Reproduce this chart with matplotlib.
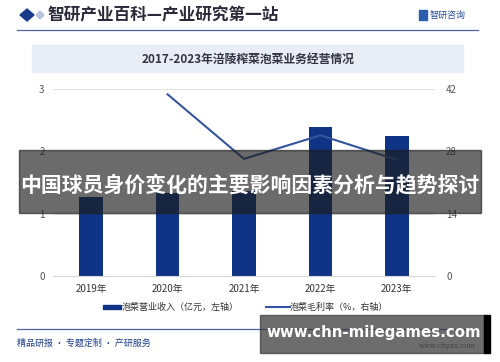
import matplotlib

matplotlib.use("Agg")

import matplotlib.pyplot as plt
from matplotlib.patches import Rectangle, Polygon
from matplotlib.lines import Line2D
import numpy as np

plt.rcParams["font.family"] = ["Noto Sans CJK SC", "DejaVu Sans"]

# ------------------------------------------------------------
# Data
# ------------------------------------------------------------
years = ["2019年", "2020年", "2021年", "2022年", "2023年"]
revenue = [1.27, 1.33, 1.36, 2.39, 2.25]          # 泡菜营业收入（亿元）
margin = [np.nan, 40.8, 26.3, 31.6, 26.1]          # 泡菜毛利率（%）
left_ticks = [0, 1, 2, 3]
right_ticks = [0, 14, 28, 42]

header_text = "智研产业百科—产业研究第一站"
chart_title = "2017-2023年涪陵榨菜泡菜业务经营情况"
overlay_text = "中国球员身价变化的主要影响因素分析与趋势探讨"
site_text = "www.chn-milegames.com"
footer_text = "精品研报 · 专题定制 · 产研服务"

BAR_COLOR = "#0f3385"
LINE_COLOR = "#34559e"
NAVY = "#1a3a8a"

W, H = 500, 362
fig = plt.figure(figsize=(W / 100, H / 100), dpi=100)
fig.patch.set_facecolor("white")


def fx(px):
    return px / W


def fy(py):
    return 1 - py / H


# header
fig.patches.append(Polygon([[fx(20), fy(15)], [fx(27), fy(9)], [fx(34), fy(15)], [fx(27), fy(21)]],
                           closed=True, transform=fig.transFigure, color=NAVY))
fig.patches.append(Polygon([[fx(36), fy(15)], [fx(40), fy(11)], [fx(44), fy(15)], [fx(40), fy(19)]],
                           closed=True, transform=fig.transFigure, color="#b8c4dc"))
fig.text(fx(47), fy(15), header_text, fontsize=12, fontweight="bold", color="#2a2a3a", va="center")
fig.patches.append(Rectangle((fx(419), fy(20)), fx(8), 10 / H, transform=fig.transFigure, color="#2a5cb0"))
fig.text(fx(430), fy(15.5), "智研咨询", fontsize=6.5, color="#2a4f9a", va="center")
fig.add_artist(Line2D([fx(17), fx(478)], [fy(30), fy(30)], color="#4a64a8", lw=0.9))

# title band
fig.patches.append(Rectangle((fx(32), fy(72)), fx(431), 27 / H, transform=fig.transFigure,
                             color="#e8edf6", zorder=0))
fig.text(fx(248), fy(59), chart_title, fontsize=8.5, fontweight="bold", color="#333344",
         ha="center", va="center")

# main plot
ax = fig.add_axes([fx(53), fy(276), fx(435 - 53), (276 - 89) / H])
x = np.arange(len(years))
ax.bar(x, revenue, width=0.31, color=BAR_COLOR, zorder=2)
ax.set_ylim(0, 3)
ax.set_yticks(left_ticks)
ax.set_xlim(-0.5, len(years) - 0.5)
ax.set_xticks(x)
ax.set_xticklabels(years, fontsize=7, color="#333333")
ax.tick_params(axis="both", length=0, pad=6, labelsize=7, labelcolor="#555555")
ax.tick_params(axis="x", labelcolor="#333333")
ax.grid(axis="y", color="#e4e4e4", lw=0.8, zorder=0)
for s in ax.spines.values():
    s.set_visible(False)
ax.spines["bottom"].set_visible(True)
ax.spines["bottom"].set_color("#d8d8d8")

ax2 = ax.twinx()
ax2.plot(x, margin, color=LINE_COLOR, lw=1.5, zorder=3)
ax2.set_ylim(0, 42)
ax2.set_yticks(right_ticks)
ax2.tick_params(axis="y", length=0, pad=8, labelsize=7, labelcolor="#555555")
for s in ax2.spines.values():
    s.set_visible(False)

# legend
fig.patches.append(Rectangle((fx(103), fy(309)), fx(18), 4 / H, transform=fig.transFigure, color=BAR_COLOR))
fig.text(fx(122), fy(307), "泡菜营业收入（亿元，左轴）", fontsize=6.5, color="#333333", va="center")
fig.add_artist(Line2D([fx(266), fx(290)], [fy(307), fy(307)], color=LINE_COLOR, lw=1.5))
fig.text(fx(290), fy(307), "泡菜毛利率（%，右轴）", fontsize=6.5, color="#333333", va="center")

# footer
fig.add_artist(Line2D([fx(17), fx(478)], [fy(329), fy(329)], color="#4a64a8", lw=0.9))
fig.text(fx(17), fy(343), footer_text, fontsize=6.5, color="#1f3f8a", va="center")
fig.text(fx(476), fy(346), "www.chyxx.com", fontsize=5, color="#555555", ha="right", va="center",
         family="DejaVu Serif")

# overlays
fig.patches.append(Rectangle((fx(19), fy(213)), fx(462), 63 / H, transform=fig.transFigure,
                             color="#1e1e1e", alpha=0.66, zorder=10))
fig.text(fx(250), fy(185), overlay_text, fontsize=15, fontweight="bold", color="white",
         ha="center", va="center", zorder=11)

fig.patches.append(Rectangle((fx(260), fy(353)), fx(224), 38 / H, transform=fig.transFigure,
                             color="#3c3c3c", alpha=0.75, zorder=10))
fig.patches.append(Rectangle((fx(484), fy(353)), fx(6), 38 / H, transform=fig.transFigure,
                             color="black", zorder=10))
fig.text(fx(374), fy(333), site_text, fontsize=10.8, fontweight="bold", color="white",
         ha="center", va="center", zorder=11, family="DejaVu Sans")

fig.savefig("out.png", dpi=100)
